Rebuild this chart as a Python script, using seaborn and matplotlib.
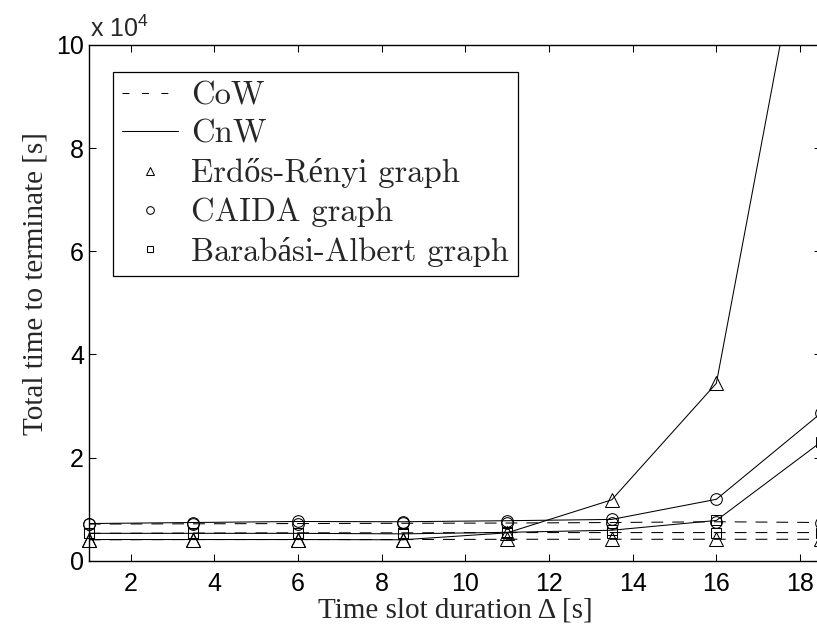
import numpy as np
import matplotlib
matplotlib.use('Agg')
import matplotlib.pyplot as plt
from matplotlib.lines import Line2D
import seaborn as sns

# time slot duration (s)
slot = [1, 3.5, 6, 8.5, 11, 13.5, 16, 18.5]

# total time to terminate (s), CoW = dashed, CnW = solid
cow_er = [4050, 4100, 4100, 4100, 4150, 4150, 4150, 4150]
cow_caida = [7100, 7150, 7200, 7250, 7300, 7400, 7550, 7400]
cow_ba = [5300, 5350, 5400, 5400, 5450, 5450, 5450, 5450]

cnw_er = [4100, 4100, 4100, 4050, 5400, 11800, 34400, 142000]
cnw_caida = [7200, 7400, 7600, 7550, 7750, 8000, 11900, 28600]
cnw_ba = [5300, 5300, 5300, 5200, 5500, 5900, 7800, 23000]

legend_labels = ['CoW', 'CnW', 'Erdős-Rényi graph', 'CAIDA graph', 'Barabási-Albert graph']

sns.set_style('ticks')
plt.rcParams['font.family'] = ['Liberation Sans', 'DejaVu Sans']
plt.rcParams['mathtext.fontset'] = 'custom'
plt.rcParams['mathtext.rm'] = 'Liberation Sans'
plt.rcParams['lines.scale_dashes'] = False

fig = plt.figure(figsize=(8.17, 6.28), dpi=100)
ax = fig.add_axes([0.1088, 0.1072, 0.896, 0.8212])

dash = (0, (8.5, 6.5))
series = [
    (cow_er, '^', 9.5, dash),
    (cow_ba, 's', 7.7, dash),
    (cow_caida, 'o', 8.4, dash),
    (cnw_er, '^', 9.5, '-'),
    (cnw_ba, 's', 7.7, '-'),
    (cnw_caida, 'o', 8.4, '-'),
]
for vals, m, ms, ls in series:
    y = np.array(vals) / 1e4
    # lines clipped to the axes
    sns.lineplot(x=slot, y=y, ax=ax, color='k', lw=0.75, linestyle=ls)
    # markers drawn unclipped, like the original (only those inside the y range)
    ym = np.where(y <= 10, y, np.nan)
    sns.lineplot(x=slot, y=ym, ax=ax, color='k', linestyle='none', marker=m,
                 markersize=ms, markerfacecolor='none', markeredgecolor='k',
                 markeredgewidth=0.75, clip_on=False)

ax.set_xlim(1, 18.5)
ax.set_ylim(0, 10)
ax.set_xticks(range(2, 19, 2))
ax.set_yticks(range(0, 11, 2))
ax.tick_params(direction='in', length=5, width=0.75, top=True, right=True,
               labelsize=18, colors='k')
ax.tick_params(axis='x', pad=8)
ax.tick_params(axis='y', pad=3.5)
for s in ax.spines.values():
    s.set_linewidth(1.0)
    s.set_color('k')

ax.set_xlabel('Time slot duration Δ [s]', family='Liberation Serif', fontsize=21, labelpad=1)
ax.set_ylabel('Total time to terminate [s]', family='Liberation Serif', fontsize=21)
ax.yaxis.set_label_coords(-0.055, 0.537)

fig.text(90 / 817, 1 - 37 / 628, r'x 10$^4$', fontsize=18, ha='left', va='baseline')

handles = [
    Line2D([], [], color='k', lw=0.75, ls=(0, (5, 9))),
    Line2D([], [], color='k', lw=0.75),
    Line2D([], [], ls='none', marker='^', ms=6, mfc='none', mec='k', mew=0.75),
    Line2D([], [], ls='none', marker='o', ms=5.5, mfc='none', mec='k', mew=0.75),
    Line2D([], [], ls='none', marker='s', ms=5, mfc='none', mec='k', mew=0.75),
]
leg = ax.legend(handles, legend_labels, loc='upper left',
                bbox_to_anchor=((113 - 88.9) / 732, 1 - (72 - 45) / 515.7),
                borderaxespad=0, prop={'family': ['cmr10', 'Liberation Serif'], 'size': 23.5},
                handlelength=1.7, handletextpad=0.42, borderpad=0.28,
                labelspacing=0.29, fancybox=False, framealpha=1, edgecolor='k')
leg.get_frame().set_linewidth(0.9)
leg.set_zorder(5)

fig.savefig('out.png', dpi=100)
